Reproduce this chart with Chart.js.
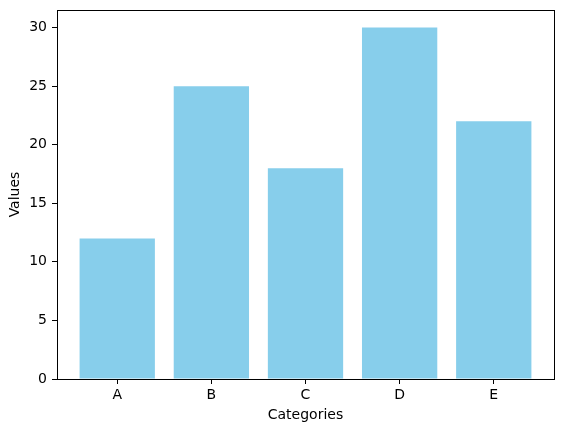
<!DOCTYPE html>
<html>
<head>
<meta charset="utf-8">
<script src="https://cdn.jsdelivr.net/npm/chart.js@4"></script>
<style>
  html, body { margin: 0; padding: 0; background: #fff; }
  #wrap { width: 562px; height: 432px; }
</style>
</head>
<body>
<div id="wrap"><canvas id="myChart"></canvas></div>
<script>
const categories = ['A', 'B', 'C', 'D', 'E'];
const values = [12, 25, 18, 30, 22];
const yTicks = [0, 5, 10, 15, 20, 25, 30];

Chart.defaults.font.family = 'DejaVu Sans';
Chart.defaults.font.size = 14;
Chart.defaults.color = '#000';

// box round the plot area, like matplotlib spines
const frame = {
  id: 'frame',
  afterDatasetsDraw(chart) {
    const a = chart.chartArea, ctx = chart.ctx;
    ctx.save();
    ctx.strokeStyle = '#000';
    ctx.lineWidth = 1;
    ctx.strokeRect(Math.round(a.left) + 0.5, Math.round(a.top) + 0.5,
      Math.round(a.right - a.left), Math.round(a.bottom - a.top));
    ctx.restore();
  }
};

const data = {
  datasets: [{
    label: 'Values',
    backgroundColor: '#87CEEB',
    borderWidth: 0,
    barPercentage: 0.8,
    categoryPercentage: 1,
    data: values.map((v, i) => ({ x: i, y: v })),
  }]
};

const config = {
  type: 'bar',
  data: data,
  plugins: [frame],
  options: {
    responsive: false,
    animation: false,
    layout: { padding: { left: 0, right: 8, top: 10, bottom: 0 } },
    scales: {
      x: {
        type: 'linear',
        offset: false,
        min: -0.64,
        max: 4.64,
        afterBuildTicks: (s) => { s.ticks = categories.map((c, i) => ({ value: i })); },
        afterFit: (s) => { s.height = 53; s.paddingLeft = 0; s.paddingRight = 0; },
        grid: { offset: false, drawOnChartArea: false, color: '#000', tickLength: 5 },
        border: { display: false },
        ticks: { padding: 3, maxRotation: 0, callback: (v) => categories[v] },
        title: { display: true, text: 'Categories', padding: { top: 0, bottom: 8 } }
      },
      y: {
        min: 0,
        max: 31.5,
        afterBuildTicks: (s) => { s.ticks = yTicks.map(v => ({ value: v })); },
        afterFit: (s) => { s.width = 57; s.paddingTop = 0; s.paddingBottom = 0; },
        grid: { drawOnChartArea: false, color: '#000', tickLength: 5 },
        border: { display: false },
        ticks: { padding: 5 },
        title: { display: true, text: 'Values', padding: { top: 7, bottom: 0 } }
      }
    },
    plugins: {
      legend: { display: false },
      tooltip: { enabled: false }
    }
  }
};

const canvas = document.getElementById('myChart');
canvas.width = 562;
canvas.height = 432;
const myChart = new Chart(canvas, config);
</script>
</body>
</html>
